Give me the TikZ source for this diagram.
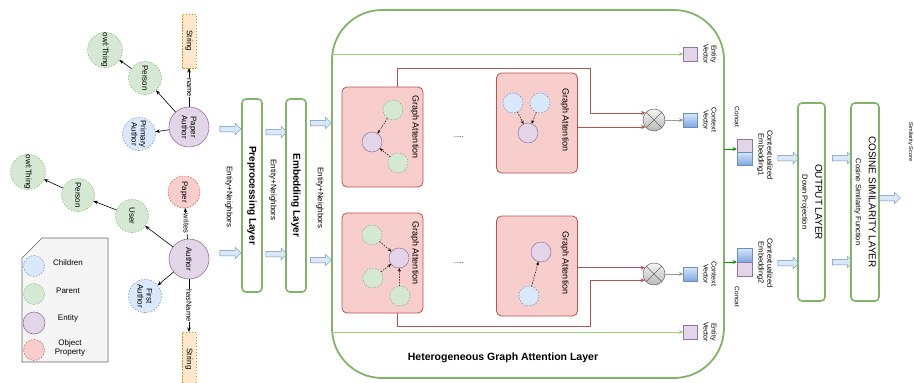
\documentclass[tikz,border=0pt]{standalone}
\usepackage{fontspec}
\setmainfont{Liberation Sans}
\usetikzlibrary{arrows.meta,shapes.arrows,shapes.geometric,calc}
\definecolor{gfill}{HTML}{D5E8D4}
\definecolor{gline}{HTML}{82B366}
\definecolor{lgline}{HTML}{97D077}
\definecolor{bfill}{HTML}{DAE8FC}
\definecolor{bline}{HTML}{6C8EBF}
\definecolor{dblue}{HTML}{7EA6E0}
\definecolor{pfill}{HTML}{E1D5E7}
\definecolor{pline}{HTML}{9673A6}
\definecolor{rfill}{HTML}{F8CECC}
\definecolor{rline}{HTML}{B85450}
\definecolor{ofill}{HTML}{FFE6CC}
\definecolor{oline}{HTML}{D79B00}
\definecolor{lgfill}{HTML}{F5F5F5}
\definecolor{lgborder}{HTML}{666666}
\definecolor{cgreen}{HTML}{009900}
\definecolor{mgray}{HTML}{999999}
\newcommand\fsz[2]{\fontsize{#1}{#2}\selectfont}
\begin{document}
\begin{tikzpicture}[x=1pt,y=-1pt,
  every node/.style={inner sep=0pt, outer sep=0pt},
  gnode/.style={circle, minimum size=33, align=center, rotate=-90, font=\fsz{8}{9}, dash pattern=on 1.5pt off 1.5pt, line width=0.5pt},
  parent/.style={gnode, draw=gline, fill=gfill},
  child/.style={gnode, draw=bline, fill=bfill},
  objp/.style={gnode, draw=rline, fill=rfill},
  entity/.style={circle, minimum size=40, align=center, rotate=-90, font=\fsz{8}{9}, draw=pline, fill=pfill, line width=0.6pt},
  strbox/.style={rectangle, draw=oline, fill=ofill, dash pattern=on 1.5pt off 1.5pt, rotate=-90, minimum width=54, minimum height=14, font=\fsz{8}{9}},
  garrow/.style={-{Stealth[length=4.5pt,width=3.5pt]}, black, line width=0.6pt},
  elabel/.style={fill=white, rotate=-90, font=\fsz{7.5}{8}, inner sep=0.6pt},
  rot/.style={rotate=-90, align=center},
  layerbox/.style={draw=gline, line width=1.6pt, rounded corners=4pt, fill=white, rotate=-90, align=center},
  barrow/.style={single arrow, draw=bline, fill=bfill, minimum height=21, minimum width=11, single arrow head extend=3pt, inner xsep=0pt, inner ysep=2.5pt, line width=0.5pt},
  attn/.style={draw=rline, fill=rfill, rounded corners=5pt, minimum width=81, minimum height=100, line width=0.8pt},
  ic/.style={circle, minimum size=20, line width=0.5pt},
  icg/.style={ic, draw=gline, fill=gfill, dash pattern=on 1.5pt off 1.5pt},
  icb/.style={ic, draw=bline, fill=bfill, dash pattern=on 1.5pt off 1.5pt},
  icp/.style={ic, draw=pline, fill=pfill},
  darrow/.style={dash pattern=on 1.5pt off 1.2pt, -{Stealth[length=3.5pt,width=3pt]}, black, line width=0.5pt},
  redw/.style={draw=rline, line width=0.6pt},
  redarr/.style={redw, -{Stealth[length=4.5pt,width=4pt]}},
  mult/.style={circle, minimum size=22, draw=lgborder, top color=lgfill, bottom color=mgray!70, line width=0.5pt,
     path picture={\draw[lgborder, line width=0.5pt] (path picture bounding box.north west) -- (path picture bounding box.south east)
       (path picture bounding box.north east) -- (path picture bounding box.south west);}},
  pvec/.style={rectangle, minimum width=14, minimum height=14, draw=pline, fill=pfill, line width=0.5pt},
  bvec/.style={rectangle, minimum width=14, minimum height=14, draw=bline, top color=bfill, bottom color=dblue, line width=0.5pt},
  lgarr/.style={lgline, line width=0.6pt, -{Stealth[length=4.5pt,width=4pt]}},
  cgarr/.style={cgreen, line width=0.7pt, -{Stealth[length=4.5pt,width=4pt]}},
  grarr/.style={mgray, line width=0.7pt, -{Stealth[length=4.5pt,width=4pt]}},
  smalltxt/.style={rot, font=\fsz{7}{8}},
  ]
\useasboundingbox (0,0) rectangle (914,383);

% ---------- left ontology graph ----------
\node[strbox] (s1) at (189,41) {String};
\node[entity] (pa) at (189,127) {Paper\\Author};
\node[parent] (per1) at (145,78) {Person};
\node[parent] (owl1) at (105,50) {owl:Thing};
\node[child] (pri) at (139,134) {Primary\\Author};
\draw[garrow] (pa) -- node[elabel]{name} (s1);
\draw[garrow] (pa) -- (per1);
\draw[garrow] (per1) -- (owl1);
\draw[garrow] (pa) -- (pri);

\node[parent] (owl2) at (28,172) {owl:Thing};
\node[parent] (per2) at (78,195) {Person};
\node[parent] (usr) at (132,216) {User};
\node[objp, minimum size=32] (pap) at (184,192) {Paper};
\node[entity] (au) at (189,259) {Author};
\node[child] (fa) at (145,296) {First\\Author};
\node[strbox] (s2) at (189,359) {String};
\draw[garrow] (au) -- (usr);
\draw[garrow] (usr) -- (per2);
\draw[garrow] (per2) -- (owl2);
\draw[garrow] (au) -- node[elabel]{writes} (pap);
\draw[garrow] (au) -- (fa);
\draw[garrow] (au) -- node[elabel]{hasName} (s2);

% ---------- legend ----------
\draw[draw=lgborder, fill=lgfill, line width=0.6pt] (22,258) -- (42,238) -- (108,238) -- (108,362) -- (22,362) -- cycle;
\node[icb, minimum size=21] (lc) at (34,266) {};
\node[icg, minimum size=21] (lp) at (34,294) {};
\node[icp, minimum size=22, line width=0.6pt] (le) at (34,323) {};
\node[ic, draw=rline, fill=rfill, dash pattern=on 1.5pt off 1.5pt, minimum size=21] (lo) at (34,350) {};
\node[font=\fsz{8}{9}] (tc) at (68,263) {Children};
\node[font=\fsz{8}{9}] (tp) at (68,291) {Parent};
\node[font=\fsz{8}{9}] (te) at (68,318) {Entity};
\node[font=\fsz{8}{9.5}, align=center] (to) at (70,348) {Object\\Property};

% ---------- preprocessing / embedding ----------
\node[barrow] (a1t) at (229,129) {};
\node[barrow] (a1b) at (229,253) {};
\node[smalltxt, font=\fsz{8}{9}] (en1) at (229,197) {Entity+Neighbors};
\node[layerbox, minimum width=193, minimum height=20, font=\bfseries\fsz{10}{11}] (pre) at (252,195.5) {Preprocessing Layer};
\node[barrow] (a2t) at (275,132) {};
\node[barrow] (a2b) at (275,254) {};
\node[smalltxt, font=\fsz{8}{9}] (en2) at (273,190) {Entity+Neighbors};
\node[layerbox, minimum width=193, minimum height=20, font=\bfseries\fsz{10}{11}] (emb) at (296,195.5) {Embedding Layer};
\node[barrow] (a3t) at (319.5,123) {};
\node[barrow] (a3b) at (319.5,260) {};
\node[smalltxt, font=\fsz{8}{9}] (en3) at (320,198) {Entity+Neighbors};

% ---------- heterogeneous graph attention layer ----------
\node[draw=gline, line width=1.8pt, rounded corners=50pt, minimum width=392, minimum height=368] (hg) at (528,194) {};
\node[font=\bfseries\fsz{10.5}{12}] (hgt) at (503,358) {Heterogeneous Graph Attention Layer};

% top-left attention
\node[attn] (tl) at (382.5,137) {};
\node[rot, font=\fsz{9}{10}] (tlt) at (415,127) {Graph Attention};
\node[icg] (tl1) at (393,110) {};
\node[icp] (tl2) at (372,142) {};
\node[icg] (tl3) at (398,163) {};
\draw[darrow] (tl1) -- (tl2);
\draw[darrow] (tl3) -- (tl2);
% top-right attention
\node[attn] (tr) at (537,123) {};
\node[rot, font=\fsz{9}{10}] (trt) at (565,120) {Graph Attention};
\node[icb] (tr1) at (513,103) {};
\node[icb] (tr2) at (540,103) {};
\node[icp] (tr3) at (528,133) {};
\draw[darrow] (tr1) -- (tr3);
\draw[darrow] (tr2) -- (tr3);
\node[font=\fsz{7}{8}] (dots1) at (459,137) {.....};

% bottom-left attention
\node[attn] (bl) at (382.5,263) {};
\node[rot, font=\fsz{9}{10}] (blt) at (415,253) {Graph Attention};
\node[icg] (bl1) at (372,235) {};
\node[icp] (bl0) at (399,258) {};
\node[icg] (bl2) at (373,278) {};
\node[icg] (bl3) at (400,296) {};
\draw[darrow] (bl1) -- (bl0);
\draw[darrow] (bl2) -- (bl0);
\draw[darrow] (bl3) -- (bl0);
% bottom-right attention
\node[attn] (br) at (537,266) {};
\node[rot, font=\fsz{9}{10}] (brt) at (565,263) {Graph Attention};
\node[icp] (br1) at (541,252) {};
\node[icb] (br2) at (529,296) {};
\draw[darrow] (br2) -- (br1);
\node[font=\fsz{7}{8}] (dots2) at (459,263) {.....};

% multiply nodes and vectors
\node[mult] (x1) at (654,120) {};
\node[mult] (x2) at (654,274) {};
\node[pvec] (ev1) at (690.5,54) {};
\node[bvec] (cv1) at (690.5,120) {};
\node[bvec] (cv2) at (690.5,274) {};
\node[pvec] (ev2) at (690.5,332) {};
\node[smalltxt] (ev1t) at (710,54) {Entity\\Vector};
\node[smalltxt] (cv1t) at (710,120) {Context\\Vector};
\node[smalltxt] (cv2t) at (710,274) {Context\\Vector};
\node[smalltxt] (ev2t) at (710,332) {Entity\\Vector};

% wires
\coordinate (w1) at (590,68);
\coordinate (w2) at (590,326);
\draw[redarr] ([xshift=55]tl.north west) |- (w1) |- (x1.140);
\draw[redarr] (tr.east |- x1.220) -- (x1.220);
\draw[redarr] (br.east |- x2.145) -- (x2.145);
\draw[redarr] ([xshift=55]bl.south west) |- (w2) |- (x2.215);
\draw[grarr] (x1) -- (cv1);
\draw[grarr] (x2) -- (cv2);
\draw[lgarr] (hg.west |- ev1) -- (ev1);
\draw[lgarr] (hg.west |- ev2) -- (ev2);

% concat
\node[pvec, minimum width=15, minimum height=13] (c1a) at (744.5,145.5) {};
\node[bvec, minimum width=15, minimum height=13] (c1b) at (744.5,158.5) {};
\node[bvec, minimum width=15, minimum height=14] (c2a) at (744.5,255) {};
\node[pvec, minimum width=15, minimum height=14] (c2b) at (744.5,269) {};
\draw[cgarr] (hg.east |- 0,149) coordinate (cs1) -- (c1a.west |- cs1);
\draw[cgarr] (hg.east |- c2a.south) -- (c2a.south west);
\node[smalltxt, font=\fsz{6.5}{7.5}] (cc1) at (737,117) {Concat};
\node[smalltxt, font=\fsz{6.5}{7.5}] (cc2) at (737,297) {Concat};
\node[smalltxt, font=\fsz{7.5}{8.8}] (ce1) at (765,155) {Contextualized\\Embedding1};
\node[smalltxt, font=\fsz{7.5}{8.8}] (ce2) at (765,263) {Contextualized\\Embedding2};

% output and cosine layers
\node[barrow] (a4t) at (787,158) {};
\node[barrow] (a4b) at (787,263) {};
\node[layerbox, minimum width=198, minimum height=27] (out) at (811.5,202) {\fsz{10}{11}OUTPUT LAYER\\[1pt]\fsz{7.5}{8}Down Projection};
\node[barrow] (a5t) at (841.5,158) {};
\node[barrow] (a5b) at (841.5,262) {};
\node[layerbox, minimum width=198, minimum height=28] (cos) at (865,202) {\fsz{10}{11}COSINE SIMILARITY LAYER\\[1pt]\fsz{7.5}{8}Cosine Similarity Function};
\node[barrow] (a6) at (888.5,198) {};
\node[rot, font=\fsz{5.5}{6.5}] (ss) at (910.5,142) {Similarity Score};
\end{tikzpicture}
\end{document}
